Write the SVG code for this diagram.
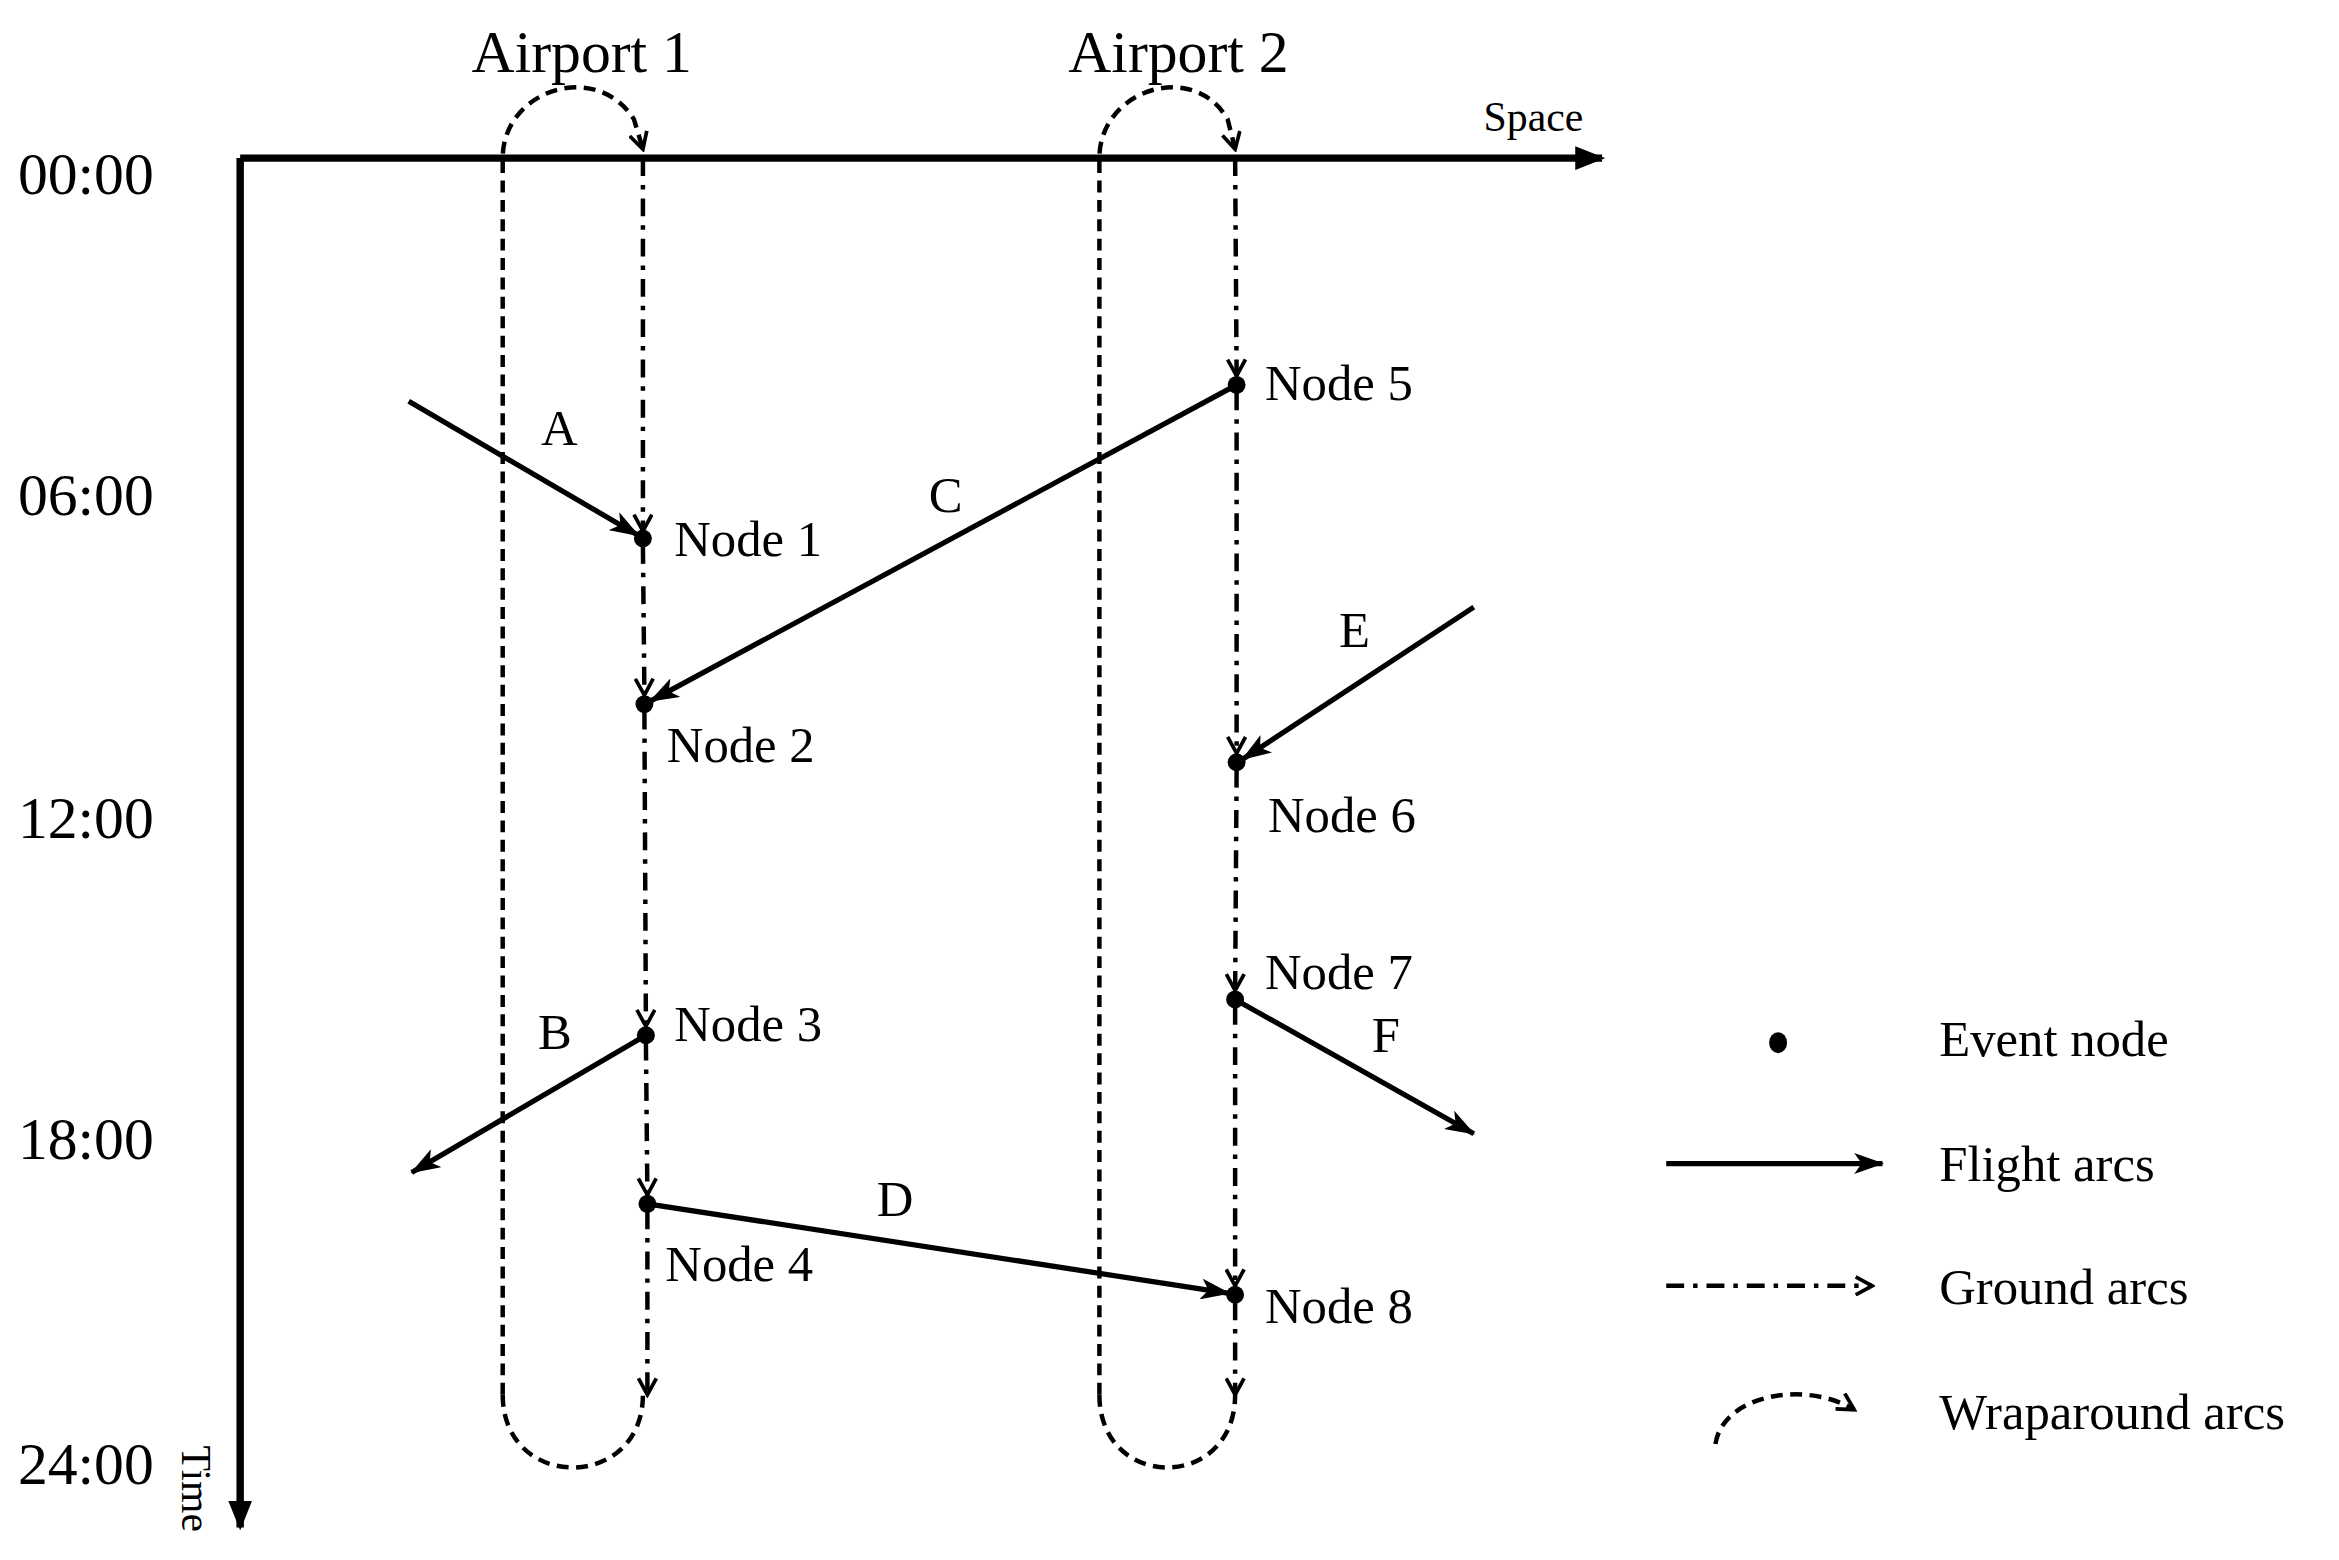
<svg xmlns="http://www.w3.org/2000/svg" width="2339" height="1560" viewBox="0 0 2339 1560">
<style>
text{font-family:"Liberation Serif","Times New Roman",serif;fill:#000}
.t{font-size:40px}
.n{font-size:34px}
.fl{stroke:#000;stroke-width:3.5;fill:none;marker-end:url(#fa)}
.gr{stroke:#000;stroke-width:3;fill:none;stroke-dasharray:12 6 3 6;marker-end:url(#ga)}
.wr{stroke:#000;stroke-width:3;fill:none;stroke-dasharray:8 5}
.ax{stroke:#000;stroke-width:5;fill:none}
</style>
<defs>
<marker id="fa" viewBox="0 0 20 14" refX="19" refY="7" markerWidth="20" markerHeight="14" markerUnits="userSpaceOnUse" orient="auto"><path d="M0,0 L20,7 L0,14 L5,7 Z" fill="#000"/></marker>
<marker id="ga" viewBox="0 0 14 14" refX="12" refY="7" markerWidth="14" markerHeight="14" markerUnits="userSpaceOnUse" orient="auto"><path d="M1,1 L12,7 L1,13" fill="none" stroke="#000" stroke-width="2.5"/></marker>
<marker id="axa" viewBox="0 0 20 16" refX="18" refY="8" markerWidth="20" markerHeight="16" markerUnits="userSpaceOnUse" orient="auto"><path d="M0,0 L20,8 L0,16 Z" fill="#000"/></marker>
</defs>
<rect width="2339" height="1560" fill="#fff"/>
<g transform="scale(1.4917)">
<g id="axes">
<path class="ax" d="M161,106 L1074,106" marker-end="url(#axa)"/>
<path class="ax" d="M161,106 L161,1024" marker-end="url(#axa)"/>
<text x="1028" y="88" font-size="28" text-anchor="middle">Space</text>
<text transform="translate(122,998) rotate(90)" font-size="28" text-anchor="middle">Time</text>
<text class="t" x="12" y="130">00:00</text>
<text class="t" x="12" y="345">06:00</text>
<text class="t" x="12" y="562">12:00</text>
<text class="t" x="12" y="777">18:00</text>
<text class="t" x="12" y="995">24:00</text>
<text class="t" x="390" y="48" text-anchor="middle">Airport 1</text>
<text class="t" x="790" y="48" text-anchor="middle">Airport 2</text>
</g>
<g id="connectors">
<path class="wr" d="M337,935 L337,106 C337,60 400,40 425,80 L431,100" marker-end="url(#ga)"/>
<path class="wr" d="M337,935 C337,1000 431,1000 431,935"/>
<path class="wr" d="M737,935 L737,106 C737,60 800,40 823,80 L828,100" marker-end="url(#ga)"/>
<path class="wr" d="M737,935 C737,1000 828,1000 828,935"/>
<path class="gr" d="M431,106 L431,356"/>
<path class="gr" d="M431,366 L432,466"/>
<path class="gr" d="M432,477 L433,688"/>
<path class="gr" d="M433,699 L434,801"/>
<path class="gr" d="M434,812 L434,935"/>
<path class="gr" d="M828,106 L829,252"/>
<path class="gr" d="M829,263 L829,505"/>
<path class="gr" d="M829,516 L828,664"/>
<path class="gr" d="M828,675 L828,862"/>
<path class="gr" d="M828,873 L828,935"/>
<path class="fl" d="M274,269 L428,359"/>
<path class="fl" d="M433,694 L276,786"/>
<path class="fl" d="M829,258 L436,470"/>
<path class="fl" d="M434,807 L824,867"/>
<path class="fl" d="M988,407 L833,509"/>
<path class="fl" d="M828,670 L988,760"/>
</g>
<g id="labels">
<text x="375" y="298" text-anchor="middle" font-size="34">A</text>
<text x="372" y="703" text-anchor="middle" font-size="34">B</text>
<text x="634" y="343" text-anchor="middle" font-size="34">C</text>
<text x="600" y="815" text-anchor="middle" font-size="34">D</text>
<text x="908" y="434" text-anchor="middle" font-size="34">E</text>
<text x="929" y="705" text-anchor="middle" font-size="34">F</text>
</g>
<g id="node1"><circle cx="431" cy="361" r="6"/><text class="n" x="452" y="373">Node 1</text></g>
<g id="node2"><circle cx="432" cy="472" r="6"/><text class="n" x="447" y="511">Node 2</text></g>
<g id="node3"><circle cx="433" cy="694" r="6"/><text class="n" x="452" y="698">Node 3</text></g>
<g id="node4"><circle cx="434" cy="807" r="6"/><text class="n" x="446" y="859">Node 4</text></g>
<g id="node5"><circle cx="829" cy="258" r="6"/><text class="n" x="848" y="268">Node 5</text></g>
<g id="node6"><circle cx="829" cy="511" r="6"/><text class="n" x="850" y="558">Node 6</text></g>
<g id="node7"><circle cx="828" cy="670" r="6"/><text class="n" x="848" y="663">Node 7</text></g>
<g id="node8"><circle cx="828" cy="868" r="6"/><text class="n" x="848" y="887">Node 8</text></g>
<g id="legend">
<ellipse cx="1192" cy="699" rx="6" ry="7"/>
<text class="n" x="1300" y="708">Event node</text>
<path class="fl" d="M1117,780 L1262,780"/>
<text class="n" x="1300" y="792">Flight arcs</text>
<path class="gr" d="M1117,862 L1255,862"/>
<text class="n" x="1300" y="874">Ground arcs</text>
<path class="wr" d="M1150,968 C1155,935 1210,925 1243,945" marker-end="url(#ga)"/>
<text class="n" x="1300" y="958">Wraparound arcs</text>
</g>
</g>
</svg>
